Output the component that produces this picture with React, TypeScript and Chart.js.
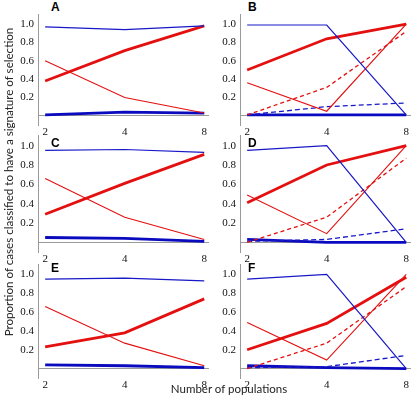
import React, { useEffect, useRef } from "react";
import { Chart, registerables } from "chart.js";

Chart.register(...registerables);

const categories = ["2", "4", "8"];

const aThinBlue = [0.97, 0.94, 0.98];
const aThickRed = [0.38, 0.71, 0.98];
const aThinRed = [0.6, 0.2, 0.03];
const aThickBlue = [0.01, 0.04, 0.03];

const bThinBlue = [0.99, 0.99, 0.01];
const bThickRed = [0.5, 0.84, 1.0];
const bThinRed = [0.36, 0.05, 1.0];
const bDashRed = [0.01, 0.31, 0.92];
const bDashBlue = [0.01, 0.1, 0.14];
const bThickBlue = [0.01, 0.01, 0.01];

const cThinBlue = [0.95, 0.96, 0.93];
const cThickRed = [0.29, 0.61, 0.91];
const cThinRed = [0.66, 0.26, 0.03];
const cThickBlue = [0.05, 0.04, 0.01];

const dThinBlue = [0.95, 1.0, 0.0];
const dThickRed = [0.41, 0.8, 1.0];
const dThinRed = [0.49, 0.09, 1.0];
const dDashRed = [0.0, 0.26, 0.87];
const dDashBlue = [0.01, 0.03, 0.14];
const dThickBlue = [0.03, 0.0, 0.0];

const eThinBlue = [0.95, 0.96, 0.93];
const eThickRed = [0.23, 0.38, 0.74];
const eThinRed = [0.66, 0.27, 0.03];
const eThickBlue = [0.04, 0.03, 0.01];

const fThinBlue = [0.95, 1.0, 0.0];
const fThickRed = [0.2, 0.48, 0.97];
const fThinRed = [0.49, 0.09, 1.0];
const fDashRed = [0.0, 0.27, 0.87];
const fDashBlue = [0.01, 0.02, 0.14];
const fThickBlue = [0.03, 0.01, 0.0];

const RED = "rgb(228,16,16)";
const BLUE = "rgb(24,24,200)";
const AXIS = "#9a9a9a";

type Series = { values: number[]; kind: string };

const styles: Record<string, { color: string; width: number; dash: number[] }> = {
  thinBlue: { color: BLUE, width: 1.2, dash: [] },
  thickRed: { color: RED, width: 2.8, dash: [] },
  thinRed: { color: RED, width: 1.1, dash: [] },
  dashRed: { color: RED, width: 1.3, dash: [4, 3] },
  dashBlue: { color: BLUE, width: 1.3, dash: [5, 3] },
  thickBlue: { color: "rgb(10,10,190)", width: 2.8, dash: [] },
};

const panels: { letter: string; left: number; top: number; height: number; letterLeft: number; letterTop: number; series: Series[] }[] = [
  {
    letter: "A", left: 14, top: 14, height: 111, letterLeft: 51, letterTop: 1,
    series: [
      { values: aThinBlue, kind: "thinBlue" },
      { values: aThinRed, kind: "thinRed" },
      { values: aThickBlue, kind: "thickBlue" },
      { values: aThickRed, kind: "thickRed" },
    ],
  },
  {
    letter: "B", left: 216, top: 14, height: 111, letterLeft: 248, letterTop: 1,
    series: [
      { values: bThinBlue, kind: "thinBlue" },
      { values: bThinRed, kind: "thinRed" },
      { values: bDashRed, kind: "dashRed" },
      { values: bDashBlue, kind: "dashBlue" },
      { values: bThickBlue, kind: "thickBlue" },
      { values: bThickRed, kind: "thickRed" },
    ],
  },
  {
    letter: "C", left: 14, top: 135, height: 117, letterLeft: 51, letterTop: 137,
    series: [
      { values: cThinBlue, kind: "thinBlue" },
      { values: cThinRed, kind: "thinRed" },
      { values: cThickBlue, kind: "thickBlue" },
      { values: cThickRed, kind: "thickRed" },
    ],
  },
  {
    letter: "D", left: 216, top: 135, height: 117, letterLeft: 248, letterTop: 137,
    series: [
      { values: dThinBlue, kind: "thinBlue" },
      { values: dThinRed, kind: "thinRed" },
      { values: dDashRed, kind: "dashRed" },
      { values: dDashBlue, kind: "dashBlue" },
      { values: dThickBlue, kind: "thickBlue" },
      { values: dThickRed, kind: "thickRed" },
    ],
  },
  {
    letter: "E", left: 14, top: 264, height: 114, letterLeft: 51, letterTop: 262,
    series: [
      { values: eThinBlue, kind: "thinBlue" },
      { values: eThinRed, kind: "thinRed" },
      { values: eThickBlue, kind: "thickBlue" },
      { values: eThickRed, kind: "thickRed" },
    ],
  },
  {
    letter: "F", left: 216, top: 264, height: 114, letterLeft: 248, letterTop: 262,
    series: [
      { values: fThinBlue, kind: "thinBlue" },
      { values: fThinRed, kind: "thinRed" },
      { values: fDashRed, kind: "dashRed" },
      { values: fDashBlue, kind: "dashBlue" },
      { values: fThickBlue, kind: "thickBlue" },
      { values: fThickRed, kind: "thickRed" },
    ],
  },
];

const CANVAS_W = 198;
const YAXIS_W = 24;
const XAXIS_H = 12;
const TICK_FONT = { family: "'Liberation Serif', 'DejaVu Serif', serif", size: 11 };

function Panel({ left, top, height, series }: { left: number; top: number; height: number; series: Series[] }) {
  const ref = useRef<HTMLCanvasElement | null>(null);
  useEffect(() => {
    if (!ref.current) return;
    const chart = new Chart(ref.current, {
      type: "line",
      data: {
        datasets: series.map((s) => ({
          data: s.values.map((v, i) => ({ x: i, y: v })),
          borderColor: styles[s.kind].color,
          borderWidth: styles[s.kind].width,
          borderDash: styles[s.kind].dash,
          pointRadius: 0,
          tension: 0,
          fill: false,
        })),
      },
      options: {
        animation: false,
        responsive: false,
        layout: { padding: { top: 0, right: 3, bottom: 0, left: 0 } },
        plugins: { legend: { display: false }, tooltip: { enabled: false }, title: { display: false } },
        scales: {
          x: {
            type: "linear",
            min: -0.09,
            max: 2.06,
            grid: { display: false },
            border: { display: false },
            afterFit: (scale: any) => {
              scale.height = XAXIS_H;
              scale.paddingLeft = 0;
              scale.paddingRight = 0;
              scale.paddingTop = 0;
              scale.paddingBottom = 0;
            },
            ticks: {
              stepSize: 1,
              includeBounds: false,
              autoSkip: false,
              maxRotation: 0,
              padding: -7,
              color: "#111",
              font: TICK_FONT,
              callback: (v: any) => (Number.isInteger(v) && categories[v] !== undefined ? categories[v] : ""),
            },
          },
          y: {
            type: "linear",
            min: -0.1,
            max: 1.11,
            afterFit: (scale: any) => {
              scale.width = YAXIS_W;
              scale.paddingTop = 0;
              scale.paddingBottom = 0;
              scale.paddingLeft = 0;
              scale.paddingRight = 0;
            },
            border: { display: true, color: AXIS, width: 1 },
            grid: {
              drawTicks: false,
              lineWidth: 1,
              color: (ctx: any) => (ctx.tick && ctx.tick.value === 0 ? AXIS : "rgba(0,0,0,0)"),
            },
            ticks: {
              stepSize: 0.2,
              includeBounds: false,
              padding: 4,
              color: "#111",
              font: TICK_FONT,
              callback: (v: any) => (Math.abs(v) < 1e-9 ? "" : Number(v).toFixed(1)),
            },
          },
        },
      },
    });
    return () => chart.destroy();
  }, []);
  const h = height + XAXIS_H;
  return (
    <canvas
      ref={ref}
      width={CANVAS_W}
      height={h}
      style={{ position: "absolute", left, top, width: CANVAS_W, height: h }}
    />
  );
}

export default function App() {
  return (
    <div style={{ position: "fixed", left: 0, top: 0, width: 415, height: 400, background: "#fff", overflow: "hidden" }}>
      {panels.map((p) => (
        <Panel key={p.letter} left={p.left} top={p.top} height={p.height} series={p.series} />
      ))}
      {panels.map((p) => (
        <div
          key={"l" + p.letter}
          style={{
            position: "absolute",
            left: p.letterLeft,
            top: p.letterTop,
            fontFamily: "'Liberation Sans', Arial, sans-serif",
            fontWeight: 700,
            fontSize: 12,
            lineHeight: "12px",
            color: "#000",
          }}
        >
          {p.letter}
        </div>
      ))}
      <div
        style={{
          position: "absolute",
          left: 9 - 170,
          top: 182 - 8,
          width: 340,
          height: 16,
          lineHeight: "16px",
          textAlign: "center",
          transform: "rotate(-90deg)",
          transformOrigin: "50% 50%",
          fontFamily: "Lato, 'Open Sans', sans-serif",
          fontSize: 11.6,
          color: "#222",
          whiteSpace: "nowrap",
        }}
      >
        Proportion of cases classified to have a signature of selection
      </div>
      <div
        style={{
          position: "absolute",
          left: 229 - 100,
          top: 389 - 8,
          width: 200,
          height: 16,
          lineHeight: "16px",
          textAlign: "center",
          fontFamily: "Lato, 'Open Sans', sans-serif",
          fontSize: 11.5,
          color: "#222",
          whiteSpace: "nowrap",
        }}
      >
        Number of populations
      </div>
    </div>
  );
}
